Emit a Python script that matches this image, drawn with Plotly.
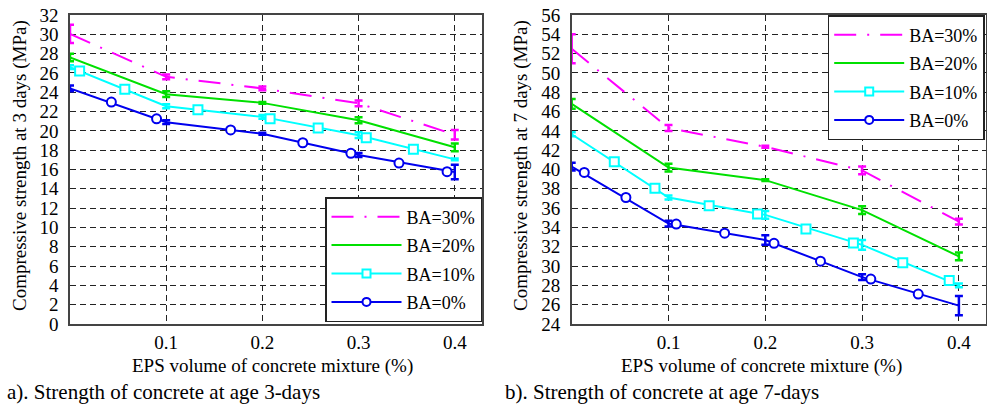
import plotly.graph_objects as go

W, H = 987, 405

# ---------------- data ----------------
eps = [0.0, 0.1, 0.2, 0.3, 0.4]
series_names = ["BA=30%", "BA=20%", "BA=10%", "BA=0%"]

# 3-day strength (MPa)
s3_ba30 = [30.05, 25.6, 24.4, 22.85, 19.6]
e3_ba30 = [0.95, 0.25, 0.2, 0.3, 0.5]
s3_ba20 = [27.6, 23.8, 22.9, 21.1, 18.3]
e3_ba20 = [0.4, 0.3, 0.1, 0.3, 0.4]
s3_ba10 = [26.6, 22.55, 21.45, 19.55, 17.05]
e3_ba10 = [0.2, 0.2, 0.2, 0.3, 0.1]
s3_ba0 = [24.4, 20.9, 19.7, 17.5, 15.75]
e3_ba0 = [0.3, 0.2, 0.1, 0.2, 0.75]

# marker positions along the 3-day curves
m3_ba10_x = [0.010, 0.057, 0.133, 0.208, 0.258, 0.308, 0.357]
m3_ba10_y = [26.2, 24.3, 22.2, 21.25, 20.3, 19.3, 18.1]
m3_ba0_x = [0.043, 0.090, 0.167, 0.242, 0.292, 0.342, 0.392]
m3_ba0_y = [22.98, 21.25, 20.1, 18.77, 17.67, 16.67, 15.77]

# 7-day strength (MPa)
s7_ba30 = [52.5, 44.3, 42.35, 39.9, 34.6]
e7_ba30 = [1.5, 0.3, 0.1, 0.4, 0.3]
s7_ba20 = [46.8, 40.2, 38.9, 35.8, 31.0]
e7_ba20 = [0.5, 0.4, 0.1, 0.4, 0.4]
s7_ba10 = [43.65, 37.1, 35.3, 32.2, 28.0]
e7_ba10 = [0.2, 0.2, 0.4, 0.5, 0.2]
s7_ba0 = [40.3, 34.4, 32.7, 28.85, 25.9]
e7_ba0 = [0.4, 0.3, 0.5, 0.3, 1.0]

m7_ba10_x = [0.044, 0.086, 0.142, 0.192, 0.242, 0.291, 0.342, 0.390]
m7_ba10_y = [40.8, 38.05, 36.25, 35.4, 33.84, 32.4, 30.35, 28.5]
m7_ba0_x = [0.013, 0.056, 0.108, 0.158, 0.209, 0.257, 0.309, 0.358]
m7_ba0_y = [39.7, 37.1, 34.35, 33.4, 32.35, 30.5, 28.65, 27.1]

x_ticks = [0.1, 0.2, 0.3, 0.4]
x_tick_text = ["0.1", "0.2", "0.3", "0.4"]
y3_ticks = list(range(0, 33, 2))
y7_ticks = list(range(24, 57, 2))

# ---------------- styles ----------------
FONT = "Liberation Serif, Times New Roman, DejaVu Serif, serif"
C30, C20, C10, C0 = "#FF00FF", "#00E000", "#00FFFF", "#0000EE"
DASHDOT = "22px,11px,2px,11px"

fig = go.Figure()


def add_panel(xa, ya, legend, tag, vals, errs, mk10, mk0):
    colors = [C30, C20, C10, C0]
    dashes = [DASHDOT, "solid", "solid", "solid"]
    for v, e, c, d in zip(vals, errs, colors, dashes):
        fig.add_trace(go.Scatter(
            x=eps, y=v, mode="lines", xaxis=xa, yaxis=ya,
            line=dict(color=c, width=2, dash=d), cliponaxis=False,
            error_y=dict(type="data", array=e, visible=True, color=c,
                         thickness=2.5, width=4),
            showlegend=False, hoverinfo="skip"))
    for (mx, my), c, sym in zip([mk10, mk0], [C10, C0], ["square", "circle"]):
        fig.add_trace(go.Scatter(
            x=mx, y=my, mode="markers", xaxis=xa, yaxis=ya,
            marker=dict(symbol=sym, size=9, color="white",
                        line=dict(color=c, width=2)),
            showlegend=False, hoverinfo="skip"))
    # legend entries
    leg = [(series_names[0], C30, DASHDOT, None),
           (series_names[1], C20, "solid", None),
           (series_names[2], C10, "solid", "square"),
           (series_names[3], C0, "solid", "circle")]
    for i, (name, c, d, sym) in enumerate(leg):
        fig.add_trace(go.Scatter(
            x=[None], y=[None], xaxis=xa, yaxis=ya, name=name,
            mode="lines+markers" if sym else "lines",
            line=dict(color=c, width=2, dash=d),
            marker=dict(symbol=sym or "circle", size=8, color="white",
                        line=dict(color=c, width=2)),
            legend=legend, legendgroup=f"{tag}{i}", showlegend=True))


add_panel("x", "y", "legend", "a",
          [s3_ba30, s3_ba20, s3_ba10, s3_ba0],
          [e3_ba30, e3_ba20, e3_ba10, e3_ba0],
          (m3_ba10_x, m3_ba10_y), (m3_ba0_x, m3_ba0_y))
add_panel("x2", "y2", "legend2", "b",
          [s7_ba30, s7_ba20, s7_ba10, s7_ba0],
          [e7_ba30, e7_ba20, e7_ba10, e7_ba0],
          (m7_ba10_x, m7_ba10_y), (m7_ba0_x, m7_ba0_y))


def px(x):
    return x / W


def py(y):
    return 1 - y / H


axis_common = dict(showline=True, mirror=True, linecolor="#444", linewidth=1.5,
                   showgrid=True, gridcolor="#222", griddash="6px,4px", gridwidth=1,
                   zeroline=False, ticks="", automargin=False,
                   tickfont=dict(family=FONT, size=19, color="black"))

legend_common = dict(xanchor="left", yanchor="top", bgcolor="white",
                     bordercolor="#222", borderwidth=1.5, tracegroupgap=2,
                     itemwidth=70, font=dict(family=FONT, size=18, color="black"))

y_top, y_bot = 15, 324
fig.update_layout(
    width=W, height=H,
    margin=dict(l=0, r=0, t=0, b=0),
    paper_bgcolor="white", plot_bgcolor="white",
    font=dict(family=FONT, size=18, color="black"),
    xaxis=dict(domain=[px(70), px(481.7)], range=[0, 0.428], anchor="y",
               tickvals=x_ticks, ticktext=x_tick_text, ticklabelstandoff=0,
               **axis_common),
    yaxis=dict(domain=[py(y_bot), py(y_top)], range=[0, 32], anchor="x",
               tickvals=y3_ticks, ticklabelstandoff=6, **axis_common),
    xaxis2=dict(domain=[px(571.7), px(986)], range=[0, 0.428], anchor="y2",
                tickvals=x_ticks, ticktext=x_tick_text, ticklabelstandoff=0,
                **axis_common),
    yaxis2=dict(domain=[py(y_bot), py(y_top)], range=[24, 56], anchor="x2",
                tickvals=y7_ticks, ticklabelstandoff=6, **axis_common),
    legend=dict(x=px(325), y=py(197), **legend_common),
    legend2=dict(x=px(827.7), y=py(15), **legend_common),
    showlegend=True,
)

ann = [
    dict(text="Compressive strength at 3 days (MPa)", x=px(20), y=py(166), textangle=-90, size=19),
    dict(text="Compressive strength at 7 days (MPa)", x=px(521), y=py(166), textangle=-90, size=19),
    dict(text="EPS volume of concrete mixture (%)", x=px(272), y=py(366), size=19),
    dict(text="EPS volume of concrete mixture (%)", x=px(761), y=py(366), size=19),
    dict(text="a). Strength of concrete at age 3-days", x=px(5), y=py(392), xanchor="left", size=21),
    dict(text="b). Strength of concrete at age 7-days", x=px(503), y=py(392), xanchor="left", size=21),
]
for a in ann:
    a.setdefault("xanchor", "center")
    sz = a.pop("size")
    fig.add_annotation(xref="paper", yref="paper", showarrow=False, yanchor="middle",
                       font=dict(family=FONT, size=sz, color="black"), **a)

fig.write_html("out.html", config={"displayModeBar": False},
               post_script="document.body.style.margin='0px';")
